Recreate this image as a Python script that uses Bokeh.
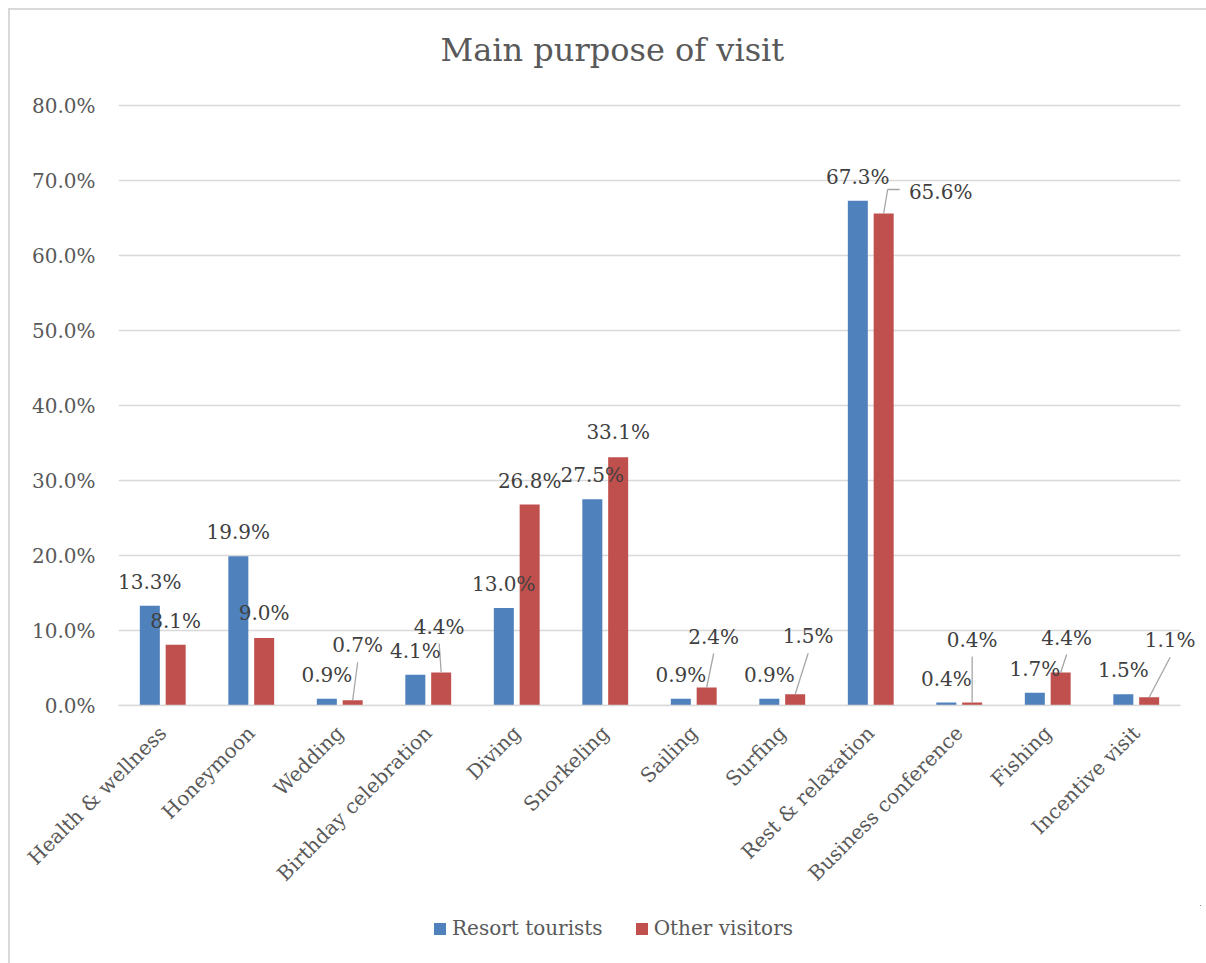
from bokeh.plotting import figure
from bokeh.layouts import column
from bokeh.models import (Range1d, FixedTicker, PrintfTickFormatter, Legend, LegendItem,
                          ColumnDataSource, LabelSet)
from bokeh.core.properties import value
from bokeh.embed import file_html
from bokeh.resources import INLINE

# ---------------- data ----------------
categories = ["Health & wellness", "Honeymoon", "Wedding", "Birthday celebration", "Diving",
              "Snorkeling", "Sailing", "Surfing", "Rest & relaxation", "Business conference",
              "Fishing", "Incentive visit"]
resort_tourists = [13.3, 19.9, 0.9, 4.1, 13.0, 27.5, 0.9, 0.9, 67.3, 0.4, 1.7, 1.5]
other_visitors = [8.1, 9.0, 0.7, 4.4, 26.8, 33.1, 2.4, 1.5, 65.6, 0.4, 4.4, 1.1]
series_names = ["Resort tourists", "Other visitors"]
y_ticks = [0, 10, 20, 30, 40, 50, 60, 70, 80]
title_text = "Main purpose of visit"

# ---------------- label placement (pixels) ----------------
resort_dx = [0] * 12
resort_dy = [24] * 12
other_dx = [0, 0, 5, -2, 0, 0, 7, 13, 57, 0, 6, 21]
other_dy = [24, 25, 55, 46, 24, 25, 51, 58, 22, 63, 35, 57]
other_leader = ["", "", "line", "line", "", "", "line", "line", "elbow", "line", "line", "line"]

# ---------------- styling / geometry ----------------
BLUE = "#4F81BD"
RED = "#C0504D"
GRID = "#D9D9D9"
AXIS_TXT = "#595959"
LABEL_TXT = "#404040"
FONT = "DejaVu Serif"

W = 1196
HM = 895            # main figure height
HL = 953 - HM       # legend strip height
ML, MR, MT, MB = 108, 6, 60, 200
CAT_PX = 1062       # pixel width of the category band
VAL_PX = 600        # pixel height from 0 to top tick
fw = W - ML - MR
fh = HM - MT - MB
n = len(categories)
ymax = y_ticks[-1]
px_x = n / CAT_PX
px_y = ymax / VAL_PX
OFF = 0.146
BW = 0.226

p = figure(width=W, height=HM,
           x_range=Range1d(0, n * fw / CAT_PX), y_range=Range1d(0, ymax * fh / VAL_PX),
           output_backend="svg", toolbar_location=None,
           min_border_left=ML, min_border_right=MR, min_border_top=MT, min_border_bottom=MB)
p.outline_line_color = None
p.background_fill_color = "white"
p.border_fill_color = "white"
p.xgrid.grid_line_color = None
p.ygrid.grid_line_color = None

# horizontal gridlines over the category band only
p.segment(x0=[0] * len(y_ticks), y0=y_ticks, x1=[n] * len(y_ticks), y1=y_ticks,
          line_color=GRID, line_width=1.5)

xc = [i + 0.5 for i in range(n)]
src = ColumnDataSource(dict(
    xr=[x - OFF for x in xc], xo=[x + OFF for x in xc],
    resort=resort_tourists, other=other_visitors,
    rlab=[f"{v:.1f}%" for v in resort_tourists], olab=[f"{v:.1f}%" for v in other_visitors],
    rdx=resort_dx, rdy=resort_dy, odx=other_dx, ody=other_dy,
))

r1 = p.vbar(x="xr", top="resort", width=BW, source=src, fill_color=BLUE, line_color=None)
r2 = p.vbar(x="xo", top="other", width=BW, source=src, fill_color=RED, line_color=None)

# leader lines
lxs, lys = [], []
for i, kind in enumerate(other_leader):
    if not kind:
        continue
    bx = xc[i] + OFF
    v = other_visitors[i]
    lx = bx + other_dx[i] * px_x
    if kind == "line":
        lxs.append([lx, bx])
        lys.append([v + (other_dy[i] - 17) * px_y, v])
    else:
        ly = v + (other_dy[i] + 2) * px_y
        lxs.append([lx - 41 * px_x, bx + 4 * px_x, bx])
        lys.append([ly, ly, v])
p.multi_line(xs=lxs, ys=lys, line_color="#A6A6A6", line_width=1.3)

for xcol, ycol, tcol, dxc, dyc in [("xr", "resort", "rlab", "rdx", "rdy"),
                                   ("xo", "other", "olab", "odx", "ody")]:
    ls = LabelSet(x=xcol, y=ycol, text=tcol, x_offset=dxc, y_offset=dyc, source=src,
                  text_align="center", text_baseline="middle",
                  text_font=value(FONT), text_font_size=value("20px"),
                  text_color=LABEL_TXT)
    p.add_layout(ls)

# title
p.title.text = title_text
p.title.text_font = FONT
p.title.text_font_size = "32px"
p.title.text_font_style = "normal"
p.title.text_color = AXIS_TXT
p.title.align = "left"
p.title.offset = 322
p.title.standoff = 4

# axes
p.yaxis.ticker = FixedTicker(ticks=y_ticks)
p.yaxis.formatter = PrintfTickFormatter(format="%.1f%%")
p.yaxis.axis_line_color = None
p.yaxis.major_tick_line_color = None
p.yaxis.minor_tick_line_color = None
p.yaxis.major_tick_out = 0
p.yaxis.major_label_standoff = 23
p.yaxis.major_label_text_font = FONT
p.yaxis.major_label_text_font_size = "20px"
p.yaxis.major_label_text_color = AXIS_TXT

p.xaxis.ticker = FixedTicker(ticks=xc)
p.xaxis.major_label_overrides = {x: c for x, c in zip(xc, categories)}
p.xaxis.bounds = (0, n)
p.xaxis.axis_line_color = GRID
p.xaxis.axis_line_width = 1.5
p.xaxis.major_tick_line_color = None
p.xaxis.minor_tick_line_color = None
p.xaxis.major_tick_out = 0
p.xaxis.major_label_standoff = 24
p.xaxis.major_label_orientation = 0.785398
p.xaxis.major_label_text_font = FONT
p.xaxis.major_label_text_font_size = "20px"
p.xaxis.major_label_text_color = AXIS_TXT

# legend strip (its renderers share the bar data but lie entirely outside this strip's view)
pl = figure(width=W, height=HL, x_range=Range1d(-3, -2), y_range=Range1d(-3, -2),
            output_backend="svg", toolbar_location=None,
            x_axis_location=None, y_axis_location=None, min_border=0)
pl.outline_line_color = None
pl.xgrid.grid_line_color = None
pl.ygrid.grid_line_color = None
pl.background_fill_color = "white"
pl.border_fill_color = "white"
g1 = pl.vbar(x="xr", top="resort", width=BW, source=src, fill_color=BLUE, line_color=None)
g2 = pl.vbar(x="xo", top="other", width=BW, source=src, fill_color=RED, line_color=None)
legend = Legend(items=[LegendItem(label=series_names[0], renderers=[g1]),
                       LegendItem(label=series_names[1], renderers=[g2])],
                orientation="horizontal", location=(314, 23),
                border_line_color=None, background_fill_alpha=0,
                label_text_font=FONT, label_text_font_size="20px", label_text_color=AXIS_TXT,
                glyph_width=15, glyph_height=15, label_standoff=5, spacing=31,
                padding=0, margin=0)
pl.add_layout(legend)

layout = column(p, pl, spacing=0)
layout.styles = {"margin-left": "8px", "margin-top": "8px",
                 "border-left": "2px solid #D9D9D9", "border-top": "2px solid #D9D9D9"}

open("out.html", "w").write(file_html(layout, INLINE))
